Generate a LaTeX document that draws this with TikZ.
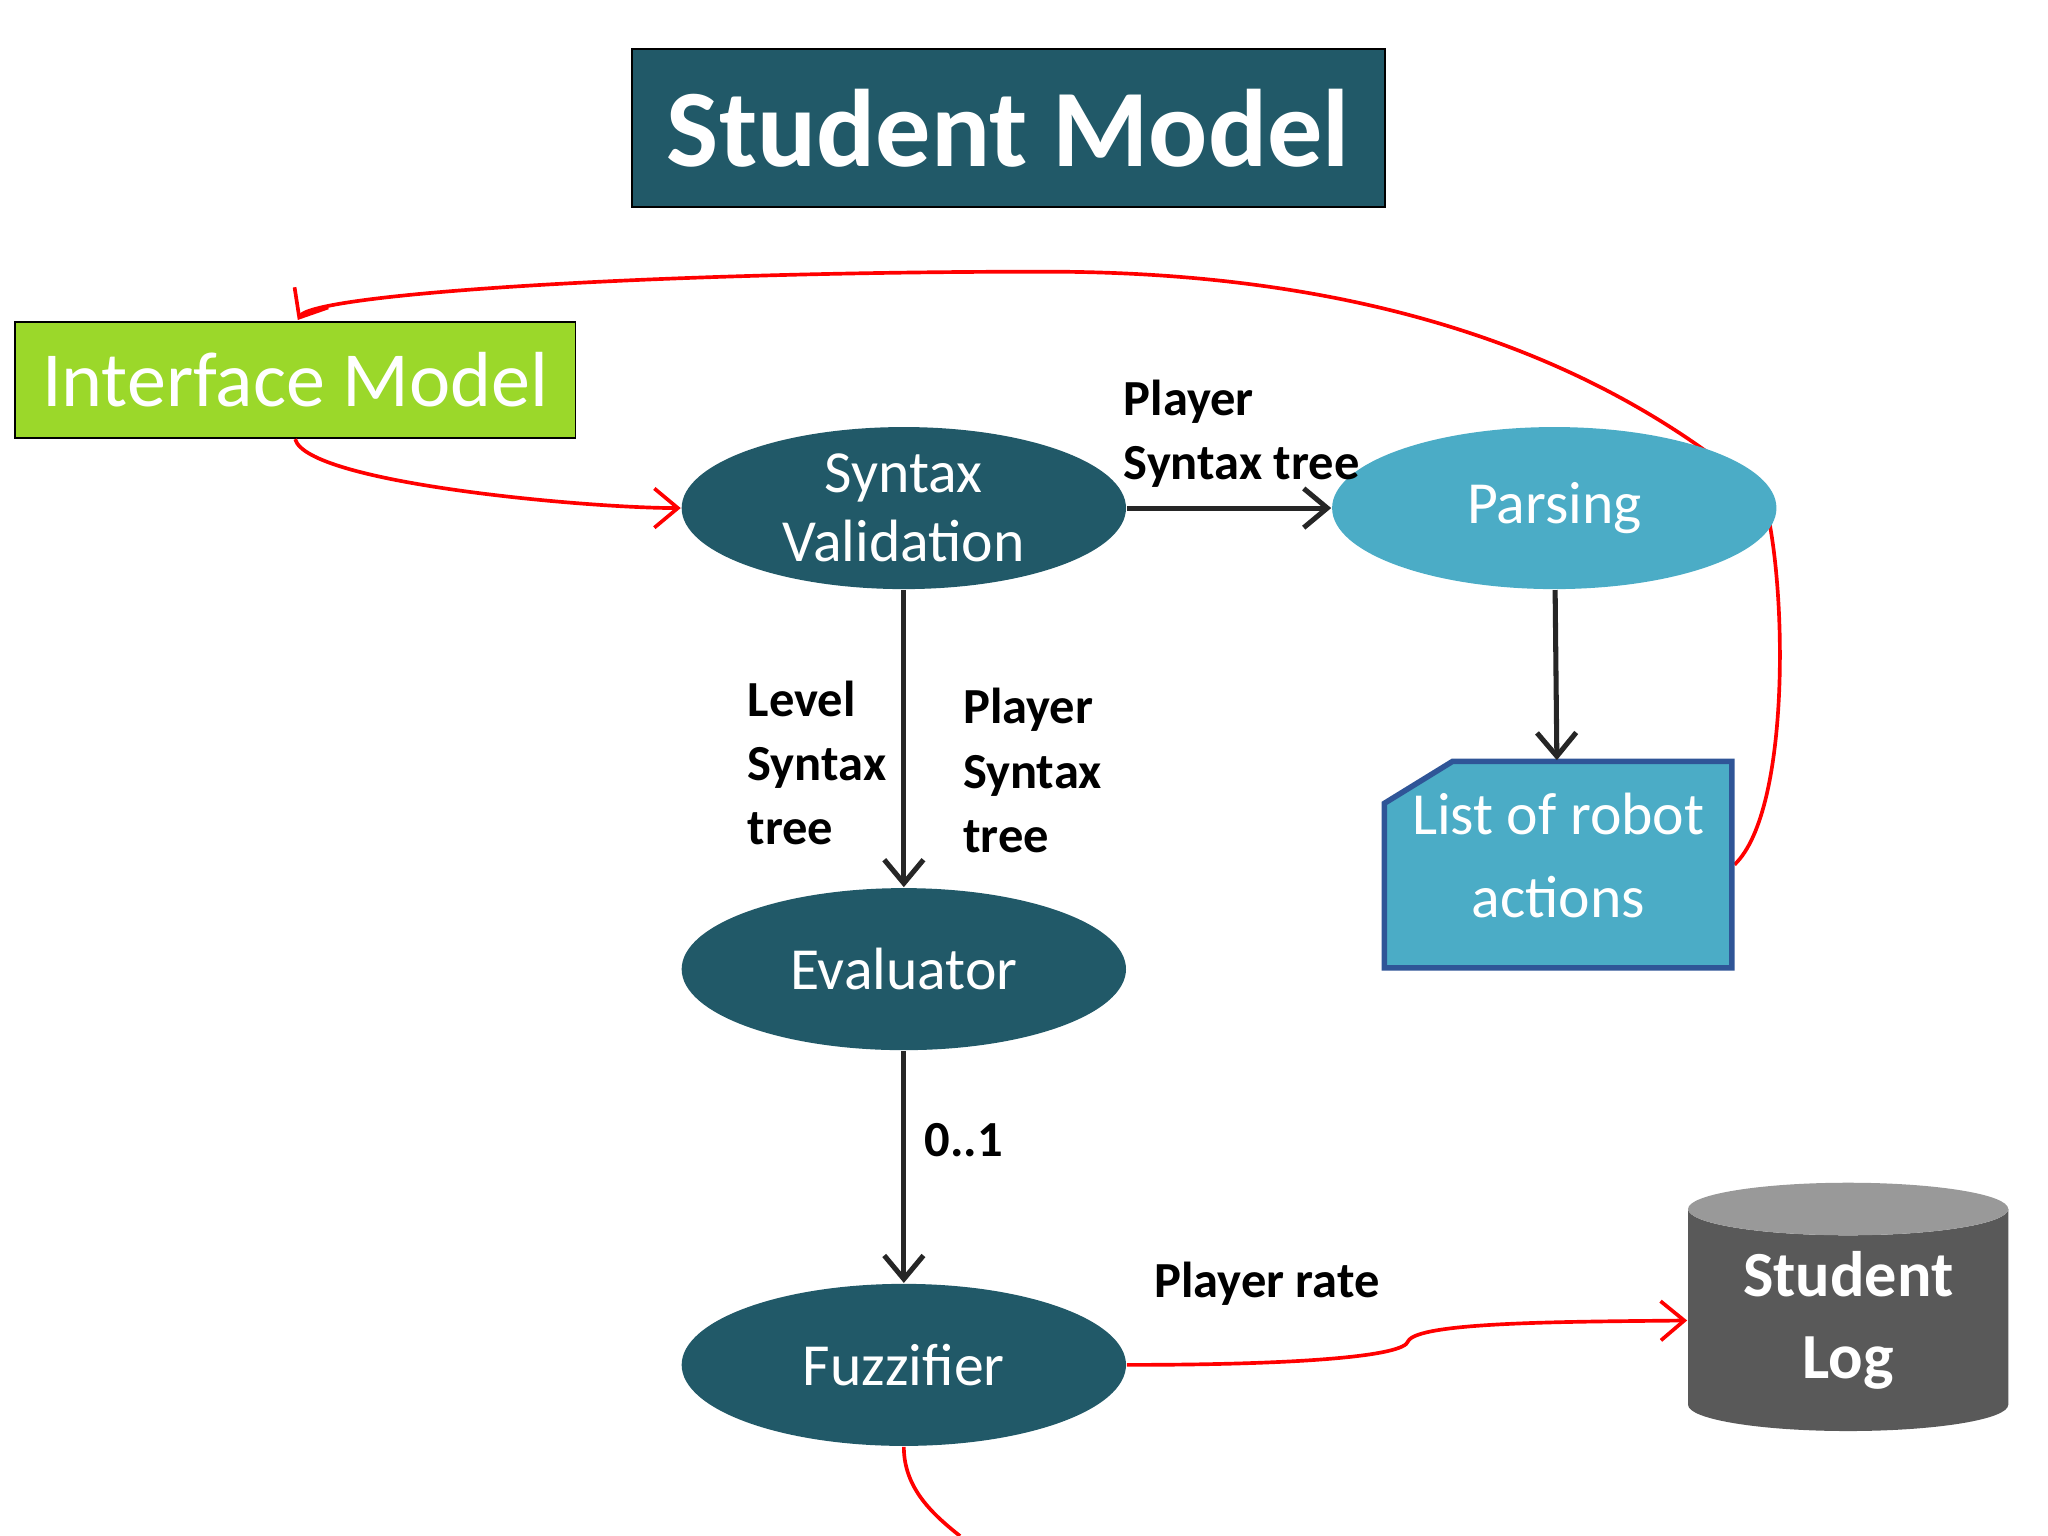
\documentclass[tikz,border=0pt]{standalone}
\usepackage{fontspec}
\setmainfont{Carlito}
\usetikzlibrary{arrows.meta, positioning, shapes.geometric}
\definecolor{teal}{HTML}{215968}
\definecolor{sky}{HTML}{4BACC6}
\definecolor{lime}{HTML}{9BD82A}
\definecolor{edge}{HTML}{2F5597}

\begin{document}
\begin{tikzpicture}[x=0.01cm, y=-0.01cm, >={Straight Barb[length=1.8mm,width=3mm]},
  proc/.style={ellipse, inner sep=0pt, minimum width=3.4cm, minimum height=1.24cm, text=white, font=\fontsize{13}{15}\selectfont, align=center},
  lbl/.style={font=\fontsize{11}{14}\selectfont\bfseries, align=left},
  flow/.style={->, line width=1.1pt, black!85},
  back/.style={->, red, line width=0.8pt}]

		\useasboundingbox (0,0) rectangle (1568,1176);

		% red feedback path, behind the ellipses
		\coordinate (top) at (800,208);
		\draw[back] (1328,662) .. controls (1372,620) and (1368,440) .. (1350,380)
				.. controls (1200,250) and (1000,208) .. (top)
				.. controls (500,208) and (240,225) .. (228,245);

		\node[draw, fill=teal, text=white, minimum width=5.76cm, minimum height=1.21cm,
				font=\fontsize{24}{28}\selectfont\bfseries] (title) at (772,98) {Student Model};
		\node[draw, fill=lime, text=white, minimum width=4.29cm, minimum height=0.89cm,
				font=\fontsize{17}{20}\selectfont] (iface) at (226,291) {Interface Model};

		\node[proc, fill=teal] (sv) at (692,389) {Syntax\\Validation};
		\node[proc, fill=sky] (pars) at (1190,389) {Parsing};
		\node[proc, fill=teal] (eval) at (692,742) {Evaluator};
		\node[proc, fill=teal] (fuzz) at (692,1045) {Fuzzifier};

		\draw[fill=sky, draw=edge, line width=1.2pt]
				(1112,583) -- (1326,583) -- (1326,741) -- (1060,741) -- (1060,615) -- cycle;
		\node[text=white, align=center, font=\fontsize{13}{18}\selectfont] (acts) at (1193,655) {List of robot\\actions};

		\node[cylinder, shape border rotate=90, aspect=0.25, inner sep=0pt, minimum width=2.45cm, minimum height=1.9cm,
				cylinder uses custom fill, cylinder body fill=black!65, cylinder end fill=black!40,
				text=white, align=center, font=\fontsize{14}{18}\selectfont\bfseries] (log) at (1415,1011) {Student\\Log};

		\draw[flow] (sv) -- (pars);
		\draw[flow] (sv) -- (eval);
		\draw[flow] (eval) -- (fuzz);
		\draw[flow] (pars) -- (1192,582);

		\draw[back] (iface.south) .. controls (235,370) and (450,389) .. (sv.west);
		\draw[back] (fuzz.east) .. controls (1000,1045) and (1075,1038) .. (1078,1027)
				.. controls (1085,1012) and (1200,1012) .. (log.west);
		\draw[red, line width=0.8pt] (fuzz.south) .. controls (692,1140) and (715,1160) .. (735,1176);

		\node[lbl, anchor=west] (l1) at (848,332) {Player\\Syntax tree};
		\node[lbl, anchor=west] (l2) at (560,584) {Level\\Syntax\\tree};
		\node[lbl, anchor=west] (l3) at (725,590) {Player\\Syntax\\tree};
		\node[lbl] (l4) at (738,873) {0..1};
		\node[lbl] (l5) at (970,983) {Player rate};

\end{tikzpicture}
\end{document}
